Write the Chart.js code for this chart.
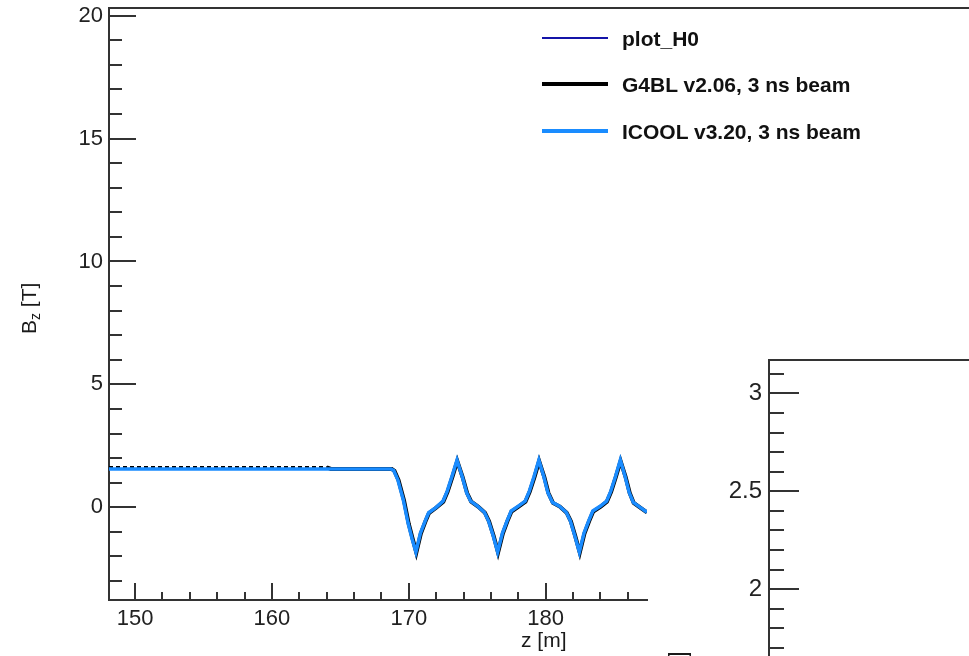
<!DOCTYPE html>
<html>
<head>
<meta charset="utf-8">
<script src="https://cdn.jsdelivr.net/npm/chart.js@4.4.1/dist/chart.umd.min.js"></script>
<style>
  html, body { margin: 0; padding: 0; background: #fff; }
  body { width: 969px; height: 656px; position: relative; overflow: hidden;
         font-family: "Liberation Sans", Arial, sans-serif; color: #1a1a1a; }
  canvas { position: absolute; }
  #main { left: 0; top: 0; }
  #inset { left: 647px; top: 330px; }
  .txt { position: absolute; font-size: 21px; line-height: 24px; white-space: nowrap; }
  .rot { transform: rotate(-90deg); transform-origin: left top; }
  .rot sub { font-size: 14px; vertical-align: -4px; }
  .swatch { position: absolute; left: 542px; width: 66px; }
  .leg { position: absolute; left: 622px; font-size: 21px; font-weight: bold; line-height: 24px; white-space: nowrap; color: #111; }
</style>
</head>
<body>
<canvas id="main" width="969" height="656"></canvas>
<canvas id="inset" width="322" height="326"></canvas>

<div class="txt rot" style="left:17px; top:334px;">B<sub>z</sub> [T]</div>
<div class="txt" style="left:521px; top:628px;">z [m]</div>
<div class="txt rot" style="left:666px; top:707px; font-size:23px;">B<sub>z</sub> [T]</div>
<div id="legend"></div>

<script>
// ── Data ────────────────────────────────────────────────────────────
const seriesLabels = ["plot_H0", "G4BL v2.06, 3 ns beam", "ICOOL v3.20, 3 ns beam"];
const seriesColors = ["#1414a8", "#000000", "#1a8cff"];

// plot_H0 has nothing visible inside the frame
const h0Z = [];
const h0Bz = [];

const g4blZ = [148.1, 164.0, 164.3, 168.75, 168.95, 169.25, 169.65, 170.0, 170.3, 170.55,
  170.88, 171.22, 171.47, 172.02, 172.52, 172.83, 173.18, 173.54, 173.93, 174.26, 174.56, 175.06,
  175.56, 175.86, 176.2, 176.52, 176.87, 177.2, 177.5, 178.02, 178.52, 178.83, 179.18, 179.52,
  179.9, 180.2, 180.53, 181.03, 181.53, 181.84, 182.16, 182.49, 182.83, 183.17, 183.47, 184.02,
  184.47, 184.78, 185.12, 185.47, 185.84, 186.14, 186.43, 186.93, 187.4];
const g4blBz = [1.63, 1.63, 1.56, 1.56, 1.48, 1.10, 0.28, -0.68, -1.32, -1.84,
  -1.07, -0.57, -0.24, -0.01, 0.23, 0.63, 1.23, 1.88, 1.23, 0.58, 0.23, 0.03,
  -0.22, -0.57, -1.17, -1.84, -1.07, -0.57, -0.17, 0.03, 0.23, 0.63, 1.23, 1.88,
  1.23, 0.58, 0.18, 0.03, -0.22, -0.57, -1.17, -1.84, -1.07, -0.57, -0.17, 0.03,
  0.23, 0.63, 1.23, 1.88, 1.23, 0.58, 0.18, -0.02, -0.21];

const icoolZ = [148.1, 168.7, 168.9, 169.2, 169.6, 169.95, 170.25, 170.52,
  170.85, 171.2, 171.45, 172.0, 172.5, 172.8, 173.15, 173.52, 173.9, 174.22, 174.52, 175.02,
  175.52, 175.82, 176.16, 176.49, 176.84, 177.18, 177.48, 178.0, 178.5, 178.8, 179.15, 179.5,
  179.86, 180.16, 180.5, 181.0, 181.5, 181.8, 182.12, 182.46, 182.8, 183.14, 183.44, 184.0,
  184.45, 184.75, 185.1, 185.45, 185.8, 186.1, 186.4, 186.9, 187.4];
const icoolBz = [1.56, 1.56, 1.50, 1.12, 0.30, -0.65, -1.30, -1.82,
  -1.05, -0.55, -0.22, 0.0, 0.25, 0.65, 1.25, 1.92, 1.25, 0.60, 0.25, 0.05,
  -0.20, -0.55, -1.15, -1.82, -1.05, -0.55, -0.15, 0.05, 0.25, 0.65, 1.25, 1.92,
  1.25, 0.60, 0.20, 0.05, -0.20, -0.55, -1.15, -1.82, -1.05, -0.55, -0.15, 0.05,
  0.25, 0.65, 1.25, 1.92, 1.25, 0.60, 0.20, 0.0, -0.20];

// ── Axis ticks ──────────────────────────────────────────────────────
const xMajorTicks = [150, 160, 170, 180];
const xMinorTicks = [150, 152, 154, 156, 158, 160, 162, 164, 166, 168, 170, 172, 174, 176, 178, 180, 182, 184, 186];
const yMajorTicks = [0, 5, 10, 15, 20];
const yMinorTicks = [-3, -2, -1, 0, 1, 2, 3, 4, 5, 6, 7, 8, 9, 10, 11, 12, 13, 14, 15, 16, 17, 18, 19, 20];
const insetMajorTicks = [2, 2.5, 3];
const insetMinorTicks = [1.7, 1.8, 1.9, 2, 2.1, 2.2, 2.3, 2.4, 2.5, 2.6, 2.7, 2.8, 2.9, 3, 3.1];

const FONT = "'Liberation Sans', Arial, sans-serif";
const AXIS = "#333333";

const toPoints = (xs, ys) => xs.map((x, i) => ({ x, y: ys[i] }));

// ROOT style: ticks drawn inward from the axis line
const rootTicks = {
  id: "rootTicks",
  afterDraw(chart, args, opts) {
    const ctx = chart.ctx;
    const area = chart.chartArea;
    ctx.save();
    ctx.strokeStyle = AXIS;
    ctx.lineWidth = 2;
    ctx.beginPath();
    (opts.axes || []).forEach(a => {
      const scale = chart.scales[a.id];
      a.minor.forEach(v => {
        const len = a.major.includes(v) ? a.majorLen : a.minorLen;
        const p = Math.round(scale.getPixelForValue(v));
        if (scale.isHorizontal()) {
          ctx.moveTo(p, area.bottom);
          ctx.lineTo(p, area.bottom - len);
        } else {
          ctx.moveTo(area.left, p);
          ctx.lineTo(area.left + len, p);
        }
      });
    });
    ctx.moveTo(area.left - 1, area.top);
    ctx.lineTo(opts.topLineTo, area.top);
    ctx.stroke();
    ctx.restore();
  }
};

function tickSetter(values) {
  return scale => { scale.ticks = values.map(v => ({ value: v })); };
}

// keep the frame where it is: no extra room for half-labels at the ends
function fitTo(prop, size) {
  return s => {
    s[prop] = size;
    s.paddingTop = 0; s.paddingBottom = 0;
    s.paddingLeft = 0; s.paddingRight = 0;
  };
}

// ── Main chart ──────────────────────────────────────────────────────
const mainChart = new Chart(document.getElementById("main"), {
  type: "line",
  data: {
    datasets: [
      {
        label: seriesLabels[0], data: toPoints(h0Z, h0Bz),
        borderColor: seriesColors[0], borderWidth: 2, order: 2
      },
      {
        label: seriesLabels[1], data: toPoints(g4blZ, g4blBz),
        borderColor: seriesColors[1], borderWidth: 4, order: 1,
        segment: {
          borderDash: c => c.p0.parsed.x < 164 ? [4, 3] : undefined,
          borderWidth: c => c.p0.parsed.x < 164 ? 2.5 : 4
        }
      },
      {
        label: seriesLabels[2], data: toPoints(icoolZ, icoolBz),
        borderColor: seriesColors[2], borderWidth: 3.5, order: 0
      }
    ]
  },
  options: {
    responsive: false,
    animation: false,
    events: [],
    elements: { point: { radius: 0 }, line: { tension: 0 } },
    layout: { padding: { left: 0, top: 8, right: 322, bottom: 0 } },
    plugins: {
      legend: { display: false },
      tooltip: { enabled: false },
      rootTicks: {
        topLineTo: 969,
        axes: [
          { id: "x", major: xMajorTicks, minor: xMinorTicks, majorLen: 17, minorLen: 8 },
          { id: "y", major: yMajorTicks, minor: yMinorTicks, majorLen: 27, minorLen: 13 }
        ]
      }
    },
    scales: {
      x: {
        type: "linear", min: 148.1, max: 187.4,
        afterFit: fitTo("height", 56),
        afterBuildTicks: tickSetter(xMinorTicks),
        grid: { display: false, drawTicks: false },
        border: { display: true, color: AXIS, width: 2 },
        ticks: {
          autoSkip: false, maxRotation: 0, padding: 6, color: "#222",
          font: { family: FONT, size: 22 },
          callback: v => xMajorTicks.includes(v) ? String(v) : ""
        }
      },
      y: {
        type: "linear", min: -3.77, max: 20.31,
        afterFit: fitTo("width", 109),
        afterBuildTicks: tickSetter(yMinorTicks),
        grid: { display: false, drawTicks: false },
        border: { display: true, color: AXIS, width: 2 },
        ticks: {
          autoSkip: false, padding: 6, color: "#222",
          font: { family: FONT, size: 22 },
          callback: v => yMajorTicks.includes(v) ? String(v) : ""
        }
      }
    }
  },
  plugins: [rootTicks]
});

// ── Inset frame (axes only) ─────────────────────────────────────────
const insetChart = new Chart(document.getElementById("inset"), {
  type: "line",
  data: { datasets: [] },
  options: {
    responsive: false,
    animation: false,
    events: [],
    layout: { padding: { left: 0, top: 30, right: 0, bottom: 0 } },
    plugins: {
      legend: { display: false },
      tooltip: { enabled: false },
      rootTicks: {
        topLineTo: 322,
        axes: [
          { id: "y", major: insetMajorTicks, minor: insetMinorTicks, majorLen: 30, minorLen: 15 }
        ]
      }
    },
    scales: {
      x: { type: "linear", min: 0, max: 1, display: false },
      y: {
        type: "linear", min: 1.658, max: 3.171,
        afterFit: fitTo("width", 122),
        afterBuildTicks: tickSetter(insetMinorTicks),
        grid: { display: false, drawTicks: false },
        border: { display: true, color: AXIS, width: 2 },
        ticks: {
          autoSkip: false, padding: 7, color: "#222",
          font: { family: FONT, size: 24 },
          callback: v => insetMajorTicks.includes(v) ? String(v) : ""
        }
      }
    }
  },
  plugins: [rootTicks]
});

// ── Legend (built from the dataset labels / colours) ────────────────
const legendRows = [38, 84, 131];
const legendWidths = [2, 4, 4];
const legendEl = document.getElementById("legend");
legendEl.innerHTML = seriesLabels.map((label, i) => `
  <div class="swatch" style="top:${legendRows[i] - legendWidths[i] / 2}px; height:${legendWidths[i]}px; background:${seriesColors[i]};"></div>
  <div class="leg" style="top:${legendRows[i] - 11}px;">${label}</div>
`).join("");
</script>
</body>
</html>
